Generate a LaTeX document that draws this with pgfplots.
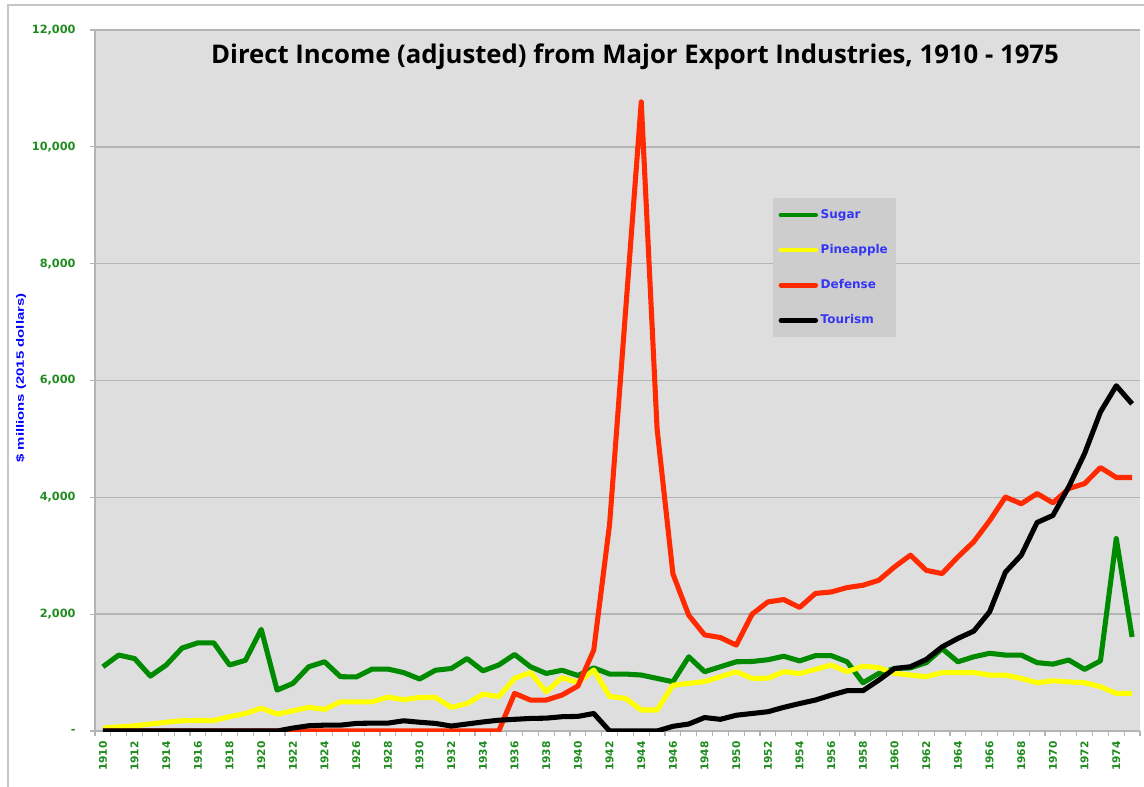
\documentclass[border=0pt]{standalone}
\usepackage{pgfplots}
\pgfplotsset{compat=1.18}
\usepackage{pgfplotstable}
\usepackage{fontspec}
\setmainfont{DejaVu Sans}
\newfontfamily\titlefont{Open Sans}
\newfontfamily\labfont{Liberation Sans}
\definecolor{sugar}{HTML}{008A00}
\definecolor{pine}{HTML}{FFFF00}
\definecolor{defense}{HTML}{FF2A00}
\definecolor{plotbg}{HTML}{DEDEDE}
\definecolor{legbg}{HTML}{CDCDCD}
\definecolor{gridc}{HTML}{B4B4B4}
\definecolor{tickgreen}{HTML}{1E8C1E}
\definecolor{legblue}{HTML}{3535F5}

\pgfplotstableread{
year sugar pine defense tourism
1910 1100 50 0 0
1911 1300 70 0 0
1912 1240 90 0 0
1913 940 120 0 0
1914 1130 150 0 0
1915 1420 175 0 0
1916 1510 180 0 0
1917 1510 180 0 0
1918 1130 245 0 0
1919 1210 300 0 0
1920 1740 390 0 0
1921 700 290 0 0
1922 815 345 0 50
1923 1100 405 0 90
1924 1185 370 0 100
1925 930 500 0 100
1926 925 500 0 130
1927 1060 500 0 135
1928 1060 580 0 135
1929 1000 535 0 175
1930 890 575 0 150
1931 1040 575 0 130
1932 1070 405 0 85
1933 1240 470 0 120
1934 1030 630 0 155
1935 1130 590 0 185
1936 1310 900 644 200
1937 1100 1000 530 215
1938 985 670 530 220
1939 1040 915 616 245
1940 950 830 770 250
1941 1080 1045 1385 300
1942 975 590 3540 0
1943 975 560 7150 0
1944 958 360 10770 0
1945 900 360 5170 0
1946 843 785 2690 80
1947 1270 815 1980 120
1948 1015 845 1645 230
1949 1100 930 1600 200
1950 1185 1015 1470 270
1951 1190 900 2000 300
1952 1220 905 2210 330
1953 1280 1015 2250 405
1954 1200 985 2115 470
1955 1290 1055 2355 530
1956 1290 1130 2380 615
1957 1185 1015 2455 690
1958 826 1110 2495 690
1959 985 1085 2580 870
1960 1070 985 2810 1070
1961 1080 958 3010 1100
1962 1170 929 2750 1225
1963 1410 1000 2695 1440
1964 1185 1000 2980 1585
1965 1270 1000 3240 1710
1966 1330 958 3600 2040
1967 1300 958 4005 2720
1968 1300 900 3890 3010
1969 1170 826 4065 3570
1970 1145 860 3905 3690
1971 1215 840 4150 4180
1972 1055 826 4235 4750
1973 1200 758 4510 5460
1974 3295 644 4340 5910
1975 1610 644 4340 5600
}\datatable

\begin{document}
\begin{tikzpicture}
\begin{scope}[x=0.75pt,y=0.75pt]
\useasboundingbox (0,0) rectangle (1144,786);
\fill[white] (0,0) rectangle (1144,786);
\draw[gray!45, line width=1.2pt] (8,-10) -- (8,781) -- (1160,781);
\end{scope}
\begin{axis}[
  at={(71.25pt,41.25pt)}, anchor=south west, scale only axis,
  width=783.75pt, height=525.75pt,
  xmin=1909.5, xmax=1975.5, ymin=0, ymax=12000,
  scaled y ticks=false,
  axis background/.style={fill=plotbg},
  axis x line=bottom, axis y line=left,
  axis line style={-, draw=gridc, line width=1.2pt},
  xtick={1910,1912,...,1974},
  xticklabels={1910,1912,1914,1916,1918,1920,1922,1924,1926,1928,1930,1932,1934,1936,1938,1940,1942,1944,1946,1948,1950,1952,1954,1956,1958,1960,1962,1964,1966,1968,1970,1972,1974},
  minor xtick={1909.5,1910.5,...,1975.5},
  major x tick style={draw=none},
  minor x tick style={draw=gridc, line width=0.9pt},
  minor tick length=4pt,
  ytick={0,2000,4000,6000,8000,10000,12000},
  yticklabels={-,{2,000},{4,000},{6,000},{8,000},{10,000},{12,000}},
  major y tick style={draw=gridc, line width=0.9pt},
  major tick length=4pt,
  tick align=outside,
  ymajorgrids, grid style={draw=gridc, line width=1.2pt},
  xticklabel style={rotate=90, anchor=east, font=\bfseries\fontsize{8}{9}\selectfont, text=tickgreen, inner sep=3.5pt},
  yticklabel style={font=\bfseries\fontsize{8.5}{9}\selectfont, text=tickgreen, xshift=-7pt},
  legend style={at={(0.6488,0.7603)}, anchor=north west, fill=legbg, draw=none,
    font=\bfseries\fontsize{9}{10}\selectfont, text=legblue, row sep=14pt,
    inner xsep=4pt, inner ysep=6.5pt},
  legend cell align=left,
  legend image code/.code={\draw[#1, line width=3.6pt, line cap=round] (0pt,0pt) -- (26pt,0pt);},
  every axis plot/.append style={line width=3.8pt, line join=round},
]
\addplot[sugar, mark=none] table[x=year, y=sugar] {\datatable};
\addplot[pine, mark=none] table[x=year, y=pine] {\datatable};
\addplot[defense, mark=none] table[x=year, y=defense] {\datatable};
\addplot[black, mark=none] table[x=year, y=tourism] {\datatable};
\legend{Sugar,Pineapple,Defense,Tourism}
\end{axis}
\begin{scope}[x=0.75pt,y=0.75pt]
\node[font=\titlefont\bfseries\fontsize{19.3}{22}\selectfont] at (635,729) {Direct Income (adjusted) from Major Export Industries, 1910 - 1975};
\node[rotate=90, font=\labfont\bfseries\fontsize{8}{9}\selectfont, text=blue] at (21,408) {\scalebox{1.4}[1]{\$ millions (2015 dollars)}};
\end{scope}
\end{tikzpicture}
\end{document}
